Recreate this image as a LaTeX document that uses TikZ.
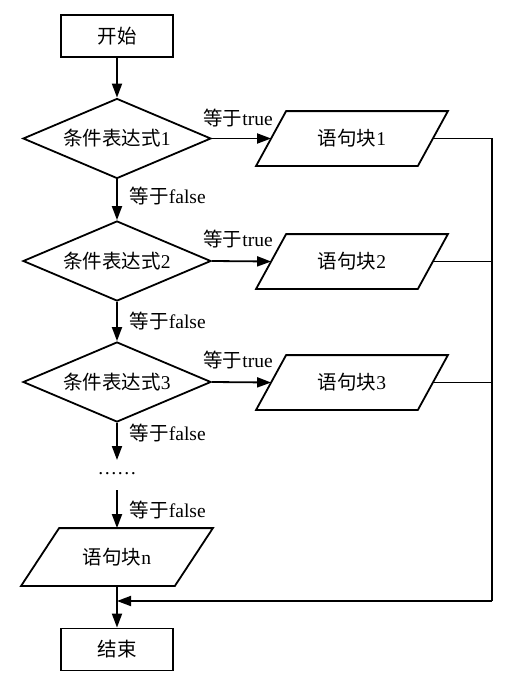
\documentclass[tikz,border=0pt]{standalone}
\usepackage{fontspec}
\setmainfont{Liberation Serif}
\newfontfamily\cjk{Noto Sans CJK SC}
\usetikzlibrary{shapes.geometric,arrows.meta}
\newcommand\drawpara[2]{\draw ([xshift=#2]#1.north west) -- ([xshift=#2]#1.north east) -- ([xshift=-#2]#1.south east) -- ([xshift=-#2]#1.south west) -- cycle;}
\begin{document}
\begin{tikzpicture}[x=1pt,y=-1pt,
  font=\fontsize{19.5pt}{23pt}\selectfont,
  line width=1.8pt,
  box/.style={draw, rectangle, minimum width=112pt, minimum height=42pt, inner sep=0pt},
  cond/.style={draw, diamond, aspect=2.35, minimum width=188pt, minimum height=80pt, inner sep=0pt},
  blk/.style={rectangle, minimum width=160pt, minimum height=53pt, inner sep=0pt},
  arr/.style={-{Triangle[length=14pt,width=10pt]}},
  lab/.style={inner sep=0pt, anchor=west},
  tlab/.style={inner sep=0pt}]
\useasboundingbox (0,0) rectangle (511,680);
\node[box] (start) at (117,36) {{\cjk 开始}};
\node[cond] (d1) at (117,138.5) {{\cjk 条件表达式}1};
\node[cond] (d2) at (117,261) {{\cjk 条件表达式}2};
\node[cond] (d3) at (117,382) {{\cjk 条件表达式}3};
\node[blk] (p1) at (352,138.5) {{\cjk 语句块}1};
\node[blk] (p2) at (352,261.5) {{\cjk 语句块}2};
\node[blk] (p3) at (352,382.5) {{\cjk 语句块}3};
\drawpara{p1}{15pt}
\drawpara{p2}{15pt}
\drawpara{p3}{15pt}
\node[inner sep=0pt] (dots) at (117,474) {……};
\coordinate (c3) at (117,460);
\coordinate (c4) at (117,490);
\node[blk, minimum width=152pt, minimum height=56pt] (pn) at (117,557) {{\cjk 语句块}n};
\drawpara{pn}{19pt}
\node[box] (end) at (117,649.5) {{\cjk 结束}};
\coordinate (rx) at (492,0);
\coordinate (m) at (117,601);
% main column
\draw[arr] (start) -- (d1);
\draw[arr] (d1) -- (d2);
\draw[arr] (d2) -- (d3);
\draw[arr] (d3) -- (c3);
\draw[arr] (c4) -- (pn);
\draw[arr] (pn) -- (end);
% true branches
\draw[arr] (d1.east) -- (p1.west);
\draw[arr] (d2.east) -- (p2.west);
\draw[arr] (d3.east) -- (p3.west);
% return line
\draw (p1.east) -- (p1.east -| rx) -- (m -| rx);
\draw[arr] (m -| rx) -- (m);
\draw (p2.east) -- (p2.east -| rx);
\draw (p3.east) -- (p3.east -| rx);
% labels
\node[tlab] (t1) at (238,118) {{\cjk 等于}true};
\node[tlab] (t2) at (238,239) {{\cjk 等于}true};
\node[tlab] (t3) at (238,360) {{\cjk 等于}true};
\node[lab] (f1) at (129,196) {{\cjk 等于}false};
\node[lab] (f2) at (129,321) {{\cjk 等于}false};
\node[lab] (f3) at (129,433) {{\cjk 等于}false};
\node[lab] (f4) at (129,510) {{\cjk 等于}false};
\end{tikzpicture}
\end{document}
